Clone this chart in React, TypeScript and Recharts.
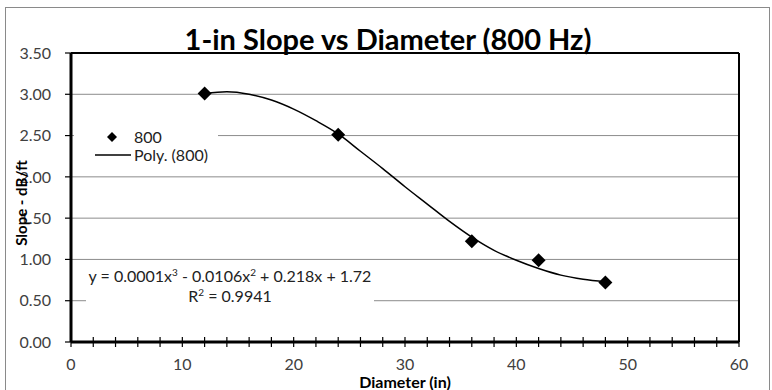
import React from 'react';
import {
  ComposedChart,
  Scatter,
  Line,
  XAxis,
  YAxis,
  CartesianGrid,
  ReferenceLine,
} from 'recharts';

// Measured points (series "800")
const diameters = [12, 24, 36, 42, 48];
const slopes = [3.01, 2.51, 1.22, 0.99, 0.72];

// Polynomial trend line
const trendX = [12, 14, 16, 18, 20, 22, 24, 26, 28, 30, 32, 34, 36, 38, 40, 42, 44, 46, 48];
const trendY = [3.01, 3.03, 3.0, 2.93, 2.82, 2.68, 2.52, 2.31, 2.1, 1.88, 1.67, 1.46, 1.27, 1.11, 0.99, 0.89, 0.81, 0.76, 0.73];

const xTicks = [0, 2, 4, 6, 8, 10, 12, 14, 16, 18, 20, 22, 24, 26, 28, 30, 32, 34, 36, 38, 40, 42, 44, 46, 48, 50, 52, 54, 56, 58, 60];
const yTicks = [0, 0.5, 1, 1.5, 2, 2.5, 3, 3.5];

const titleText = '1-in Slope vs Diameter (800 Hz)';
const xTitle = 'Diameter (in)';
const yTitle = 'Slope - dB/ft';
const seriesName = '800';
const trendName = 'Poly. (800)';

const points = diameters.map((x, i) => ({ x, y: slopes[i] }));
const trend = trendX.map((x, i) => ({ x, y: trendY[i] }));

const FONT = 'Lato, "Open Sans", sans-serif';

const Diamond = (props: any) => {
  const { cx, cy } = props;
  const r = 7;
  return (
    <polygon
      points={`${cx},${cy - r} ${cx + r},${cy} ${cx},${cy + r} ${cx - r},${cy}`}
      fill="#000"
    />
  );
};

const XTick = (props: any) => {
  const { x, y, payload } = props;
  const v = payload.value;
  const major = v % 10 === 0;
  return (
    <g>
      <line x1={x} x2={x} y1={y - 5} y2={y + 5} stroke="#000" strokeWidth={1.2} />
      {major && (
        <text x={x} y={y + 28} textAnchor="middle" fontSize={16} fill="#404040" fontFamily={FONT}>
          {v}
        </text>
      )}
    </g>
  );
};

export default function App() {
  return (
    <div style={{ position: 'absolute', left: 0, top: 0, width: 772, height: 390, background: '#fff', fontFamily: FONT, overflow: 'hidden' }}>
      <div style={{ position: 'absolute', left: 5, top: 7, width: 765, height: 400, border: '1px solid #8a8a8a', boxSizing: 'border-box' }} />
      <ComposedChart
        width={772}
        height={390}
        margin={{ top: 53, right: 33, bottom: 18, left: 11 }}
        style={{ position: 'absolute', left: 0, top: 0 }}
      >
        <CartesianGrid vertical={false} stroke="#8c8c8c" strokeWidth={1} />
        <XAxis
          dataKey="x"
          type="number"
          domain={[0, 60]}
          ticks={xTicks}
          interval={0}
          tick={<XTick />}
          tickLine={false}
          tickSize={0}
          tickMargin={0}
          axisLine={{ stroke: '#000', strokeWidth: 3 }}
          height={30}
        />
        <YAxis
          type="number"
          domain={[0, 3.5]}
          ticks={yTicks}
          interval={0}
          width={60}
          tickFormatter={(v: number) => v.toFixed(2)}
          tick={{ fontSize: 16, fill: '#404040', fontFamily: FONT }}
          tickLine={{ stroke: '#000', strokeWidth: 1.2 }}
          tickSize={6}
          tickMargin={14}
          axisLine={{ stroke: '#000', strokeWidth: 3 }}
        />
        <ReferenceLine y={3.5} stroke="#000" strokeWidth={2} />
        <ReferenceLine x={60} stroke="#000" strokeWidth={2} />
        <Line
          data={trend}
          dataKey="y"
          type="monotone"
          stroke="#000"
          strokeWidth={1.5}
          dot={false}
          activeDot={false}
          isAnimationActive={false}
        />
        <Scatter data={points} dataKey="y" shape={<Diamond />} isAnimationActive={false} />
      </ComposedChart>

      <div style={{ position: 'absolute', left: 388 - 300, width: 600, top: 21, textAlign: 'center', fontSize: 29, fontWeight: 700, textDecoration: 'underline', color: '#000', lineHeight: '35px', whiteSpace: 'nowrap' }}>
        {titleText}
      </div>

      <div style={{ position: 'absolute', left: 74, top: 127, width: 144, height: 42, background: '#fff', fontSize: 16, color: '#222' }}>
        <div style={{ position: 'absolute', left: 0, top: 2, height: 16, display: 'flex', alignItems: 'center' }}>
          <svg width={59} height={16}>
            <polygon points="38,3 43,8 38,13 33,8" fill="#000" />
          </svg>
          <span style={{ marginLeft: 1, lineHeight: '16px' }}>{seriesName}</span>
        </div>
        <div style={{ position: 'absolute', left: 0, top: 20, height: 16, display: 'flex', alignItems: 'center' }}>
          <svg width={59} height={16}>
            <line x1={21} x2={57} y1={8} y2={8} stroke="#000" strokeWidth={1.5} />
          </svg>
          <span style={{ marginLeft: 1, lineHeight: '16px' }}>{trendName}</span>
        </div>
      </div>

      <div style={{ position: 'absolute', left: 86, top: 266, width: 288, height: 42, background: '#fff', fontSize: 16, color: '#222', textAlign: 'center', lineHeight: '20px', whiteSpace: 'nowrap' }}>
        <div>
          y = 0.0001x<sup style={{ fontSize: 10, lineHeight: 0 }}>3</sup> - 0.0106x<sup style={{ fontSize: 10, lineHeight: 0 }}>2</sup> + 0.218x + 1.72
        </div>
        <div>
          R<sup style={{ fontSize: 10, lineHeight: 0 }}>2</sup> = 0.9941
        </div>
      </div>

      <div style={{ position: 'absolute', left: 405 - 80, width: 160, top: 374, textAlign: 'center', fontSize: 16, fontWeight: 700, color: '#000', lineHeight: '16px' }}>
        {xTitle}
      </div>

      <div style={{ position: 'absolute', left: 21, top: 203, width: 0, height: 0 }}>
        <div style={{ position: 'absolute', left: -70, top: -10, width: 140, textAlign: 'center', transform: 'rotate(-90deg)', fontSize: 15, fontWeight: 700, color: '#000', lineHeight: '20px' }}>
          {yTitle}
        </div>
      </div>
    </div>
  );
}
